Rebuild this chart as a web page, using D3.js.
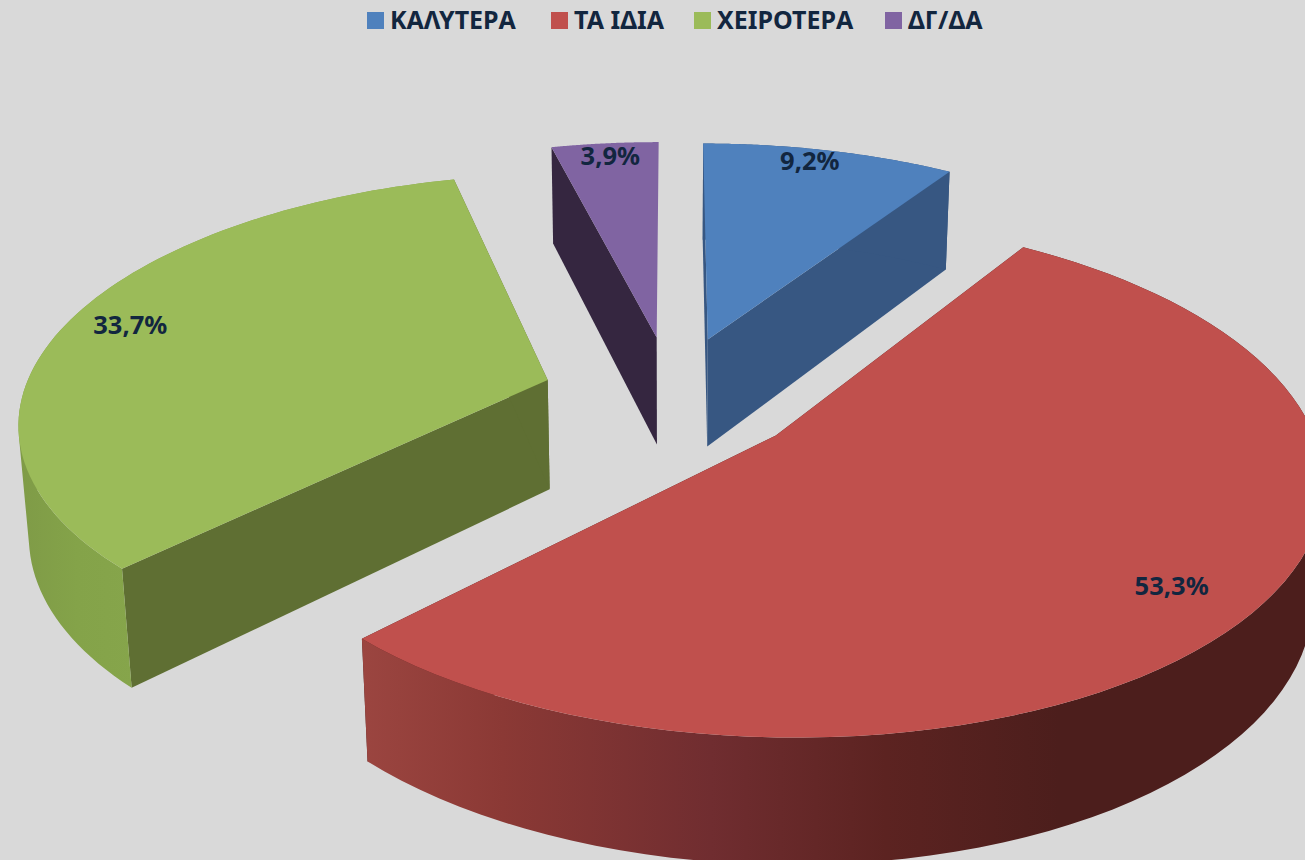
<!DOCTYPE html>
<html>
<head>
<meta charset="utf-8">
<script src="https://cdn.jsdelivr.net/npm/d3@7"></script>
<style>
  body { margin: 0; background: #d9d9d9; }
  text { font-family: "Noto Sans", sans-serif; font-weight: 700; fill: #12263f; }
</style>
</head>
<body>
<svg id="chart"></svg>
<script>
// Chart data
var categories = ['ΚΑΛΥΤΕΡΑ', 'ΤΑ ΙΔΙΑ', 'ΧΕΙΡΟΤΕΡΑ', 'ΔΓ/ΔΑ'];
var values = [9.2, 53.3, 33.7, 3.9];

// Colours per slice
var topColors = ['#4f81bd', '#c0504d', '#9bbb59', '#8064a2'];
var wallColors = ['#375782', '#4c1e1c', '#5f6f33', '#352640'];

var width = 1305, height = 860;

var svg = d3.select('#chart')
    .attr('width', width)
    .attr('height', height)
    .style('display', 'block');

svg.append('rect')
    .attr('width', width)
    .attr('height', height)
    .attr('fill', '#d9d9d9');

// Perspective camera: u goes right, v goes away from viewer, h goes down
var view = { cx: 672, cy: 396, a: 521, b: 245, depth: 112, k: 0.156, m: 0.016 };
var explode = 0.25;
var rimX = 1.008, rimY = 0.988;

// Label placement inside each slice: radius, and turn from the slice's middle
var labelRadii = [0.93, 0.85, 0.875, 0.925];
var labelTurn = [-0.03, 0.01, 0.01, 0.005];

function project(u, v, h) {
    var w = 1 + view.k * v + view.m * h;
    return [view.cx + view.a * u / w, view.cy + (view.depth * h - view.b * v) / w];
}

// Point on the rim of an exploded slice, r is in pie radii
function slicePoint(d, angle, r, h) {
    var mid = (d.startAngle + d.endAngle) / 2;
    var u = explode * Math.sin(mid) + r * rimX * Math.sin(angle);
    var v = explode * Math.cos(mid) + r * rimY * Math.cos(angle);
    return project(u, v, h);
}

function rimAngles(d) {
    var steps = 80;
    return d3.range(steps + 1).map(function(i) {
        return d.startAngle + (d.endAngle - d.startAngle) * i / steps;
    });
}

function rim(d, h) {
    return rimAngles(d).map(function(angle) { return slicePoint(d, angle, 1, h); });
}

var line = d3.line();

var pie = d3.pie().sort(null).value(function(d) { return d; });
var slices = pie(values).map(function(d, i) {
    d.color = topColors[i];
    d.wall = wallColors[i];
    return d;
});

// Shading along the curved outer walls
var defs = svg.append('defs');

function wallGradient(id, x1, x2, stops) {
    var gradient = defs.append('linearGradient')
        .attr('id', id)
        .attr('gradientUnits', 'userSpaceOnUse')
        .attr('x1', x1).attr('x2', x2)
        .attr('y1', 0).attr('y2', 0);
    stops.forEach(function(s) {
        gradient.append('stop').attr('offset', s[0]).attr('stop-color', s[1]);
    });
}

wallGradient('wall-red', 363, 1060, [
    [0, '#9b4540'], [0.2, '#8b3935'], [0.5, '#702d30'], [0.75, '#5c2321'], [1, '#4c1e1c']
]);
wallGradient('wall-green', 20, 135, [
    [0, '#7f9b47'], [0.5, '#84a349'], [1, '#86a54b']
]);

var outerFill = ['#375782', 'url(#wall-red)', 'url(#wall-green)', null];

// Far slices first
var drawOrder = [3, 0, 2, 1];

drawOrder.forEach(function(i) {
    var d = slices[i];
    var g = svg.append('g');
    var mid = (d.startAngle + d.endAngle) / 2;

    // Flat cut walls, the last slice's closing wall is edge on so it is left out
    var cuts = i === 3 ? [d.startAngle] : [d.startAngle, d.endAngle];
    cuts.forEach(function(angle) {
        g.append('path')
            .attr('d', line([
                slicePoint(d, mid, 0, 0),
                slicePoint(d, angle, 1, 0),
                slicePoint(d, angle, 1, 1),
                slicePoint(d, mid, 0, 1)
            ]) + 'Z')
            .attr('fill', d.wall);
    });

    // Curved outer wall, quads per rim step in one path so no seams show.
    // All quads get the same winding or overlapping ones cancel out.
    if (outerFill[i]) {
        var quads = d3.pairs(rimAngles(d)).map(function(p) {
            var quad = [
                slicePoint(d, p[0], 1, 0),
                slicePoint(d, p[1], 1, 0),
                slicePoint(d, p[1], 1, 1),
                slicePoint(d, p[0], 1, 1)
            ];
            if (d3.polygonArea(quad) < 0) quad.reverse();
            return line(quad) + 'Z';
        });
        g.append('path')
            .attr('d', quads.join(''))
            .attr('fill', outerFill[i]);
    }

    // Top face
    g.append('path')
        .attr('d', line([slicePoint(d, mid, 0, 0)].concat(rim(d, 0))) + 'Z')
        .attr('fill', d.color);
});

// Data labels
var locale = d3.formatLocale({ decimal: ',', thousands: '.', grouping: [3], currency: ['', '€'] });
var formatValue = locale.format('.1f');

svg.append('g').selectAll('text')
    .data(slices)
    .enter()
    .append('text')
    .attr('transform', function(d, i) {
        var mid = (d.startAngle + d.endAngle) / 2;
        return 'translate(' + slicePoint(d, mid + labelTurn[i], labelRadii[i], 0) + ')';
    })
    .attr('text-anchor', 'middle')
    .attr('dy', '0.36em')
    .attr('font-size', 25.5)
    .text(function(d) { return formatValue(d.value) + '%'; });

// Legend
var legendX = d3.scaleOrdinal().domain(categories).range([367, 551, 694, 885]);
var legendColor = d3.scaleOrdinal().domain(categories).range(topColors);

var legend = svg.append('g').selectAll('g')
    .data(categories)
    .enter()
    .append('g')
    .attr('transform', function(d) { return 'translate(' + legendX(d) + ',0)'; });

legend.append('rect')
    .attr('y', 12)
    .attr('width', 17)
    .attr('height', 17)
    .attr('fill', function(d) { return legendColor(d); });

legend.append('text')
    .attr('x', 23)
    .attr('y', 29)
    .attr('font-size', 25)
    .text(function(d) { return d; });
</script>
</body>
</html>
